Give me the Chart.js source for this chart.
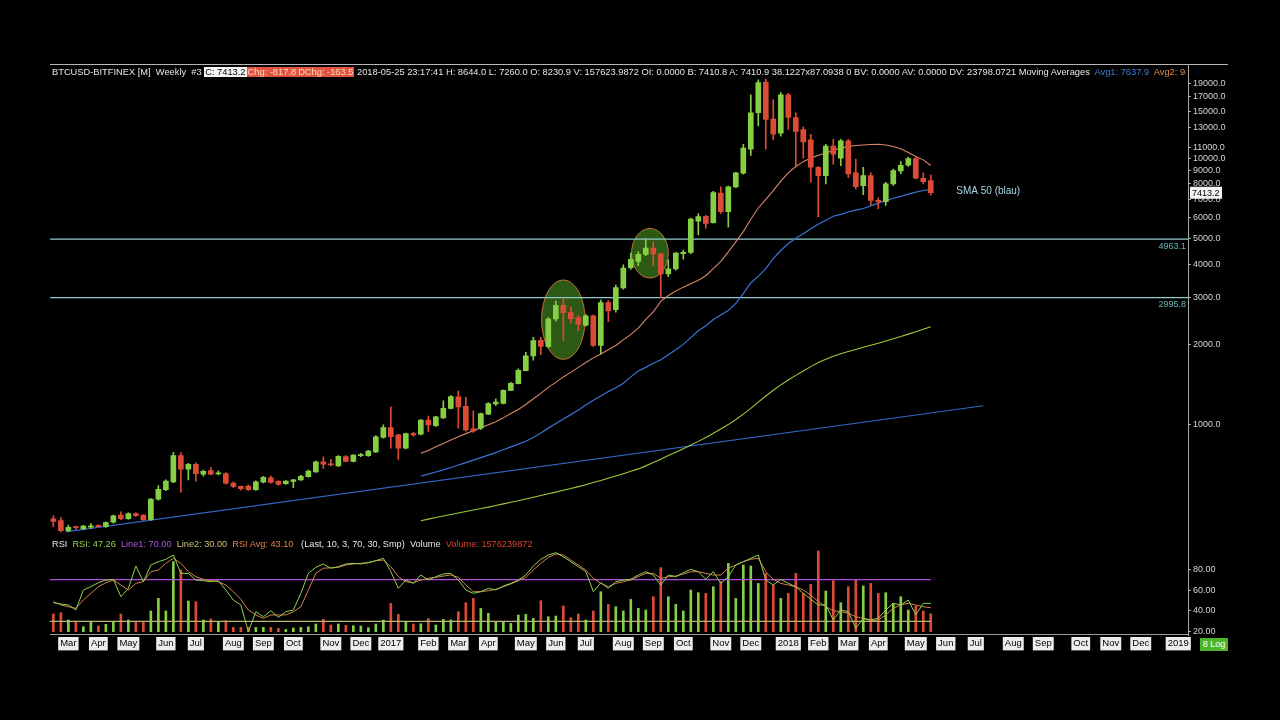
<!DOCTYPE html>
<html>
<head>
<meta charset="utf-8">
<script src="https://cdn.jsdelivr.net/npm/chart.js@4.4.1/dist/chart.umd.min.js"></script>
<style>
  html, body { margin: 0; padding: 0; background: #000; }
  body { width: 1280px; height: 720px; position: relative; overflow: hidden; font-family: "Liberation Sans", Arial, sans-serif; }
  canvas { position: absolute; left: 0; }
  #price { top: 0; }
  #rsi { top: 540px; }
  .hdr { position: absolute; left: 52px; white-space: nowrap; overflow: hidden; line-height: 12px; color: #e6e6e6; }
  .w { background: #f4f4f4; color: #000; padding: 0 1px; }
  .r { background: #e0553d; color: #ffd2c4; padding: 0 1px; }
  .topline { position: absolute; left: 50px; top: 64px; width: 1178px; height: 1px; background: #b8b8b8; }
  .axisline { position: absolute; left: 1188px; top: 64px; width: 1px; height: 572px; background: #a8a8a8; }
  .logbox { position: absolute; left: 1200px; top: 638px; width: 28px; height: 13px; line-height: 13px; background: #4cb52a; color: #fff; font-size: 9px; text-align: center; }
</style>
</head>
<body>
<canvas id="price" width="1280" height="540"></canvas>
<canvas id="rsi" width="1280" height="120"></canvas>
<div class="topline"></div>
<div class="axisline"></div>
<div class="hdr" style="top:66px; width:1134px; font-size:9.3px;">BTCUSD-BITFINEX [M]&nbsp; Weekly&nbsp; #3 <span class="w">C: 7413.2</span><span class="r">Chg: -817.8</span><span class="r">DChg: -163.5</span> 2018-05-25 23:17:41 H: 8644.0 L: 7260.0 O: 8230.9 V: 157623.9872 OI: 0.0000 B: 7410.8 A: 7410.9 38.1227x87.0938 0 BV: 0.0000 AV: 0.0000 DV: 23798.0721 Moving Averages&nbsp; <span style="color:#3f7fe0">Avg1: 7637.9</span>&nbsp; <span style="color:#e08a45">Avg2: 9380.4</span></div>
<div class="hdr" style="top:538px; font-size:9.2px;">RSI&nbsp; <span style="color:#8fd14f">RSI: 47.26</span>&nbsp; <span style="color:#b455dc">Line1: 70.00</span>&nbsp; <span style="color:#c9c070">Line2: 30.00</span>&nbsp; <span style="color:#dc8450">RSI Avg: 43.10</span>&nbsp; &nbsp;(Last, 10, 3, 70, 30, Smp)&nbsp; Volume&nbsp; <span style="color:#d8402c">Volume: 1576239872</span></div>
<div class="logbox">8 Log</div>
<script>
// weekly candles, weeks dated by their Sunday start
const firstWeek = '2016-02-21';
const weekCount = 152;   // axis runs on into Jan 2019

const open = [443,436,400,414,406,412,419,414,430,458, 444,464,458,440,525,570,610,765,680,710,
  652,672,653,655,603,586,588,570,608,632, 612,600,612,620,638,665,725,712,700,758,
  728,765,765,790,895,975,915,815,925,920, 1040,990,1060,1150,1270,1170,965,970,1095,1195,
  1200,1345,1425,1595,1810,2070,1965,2490,2800,2630, 2520,2360,2560,1980,2870,2700,3260,3880,4100,4350,
  4600,4370,3680,3840,4380,4430,5800,6050,5720,7400, 6300,7800,8780,10800,14800,19300,14000,12400,17290,14200,
  12800,11700,9240,8600,11100,10000,11600,8800,7880,8600, 6940,6860,8000,8950,9400,9970,8400,8230.9];
const high = [455,448,420,416,419,425,421,432,458,471, 467,467,460,528,591,620,787,785,715,718,
  675,690,670,660,610,588,593,615,640,641, 616,617,623,645,675,730,757,740,765,765,
  772,780,800,910,997,1166,920,930,935,1045, 1077,1075,1228,1285,1335,1265,1127,1105,1210,1250,
  1350,1440,1620,1868,2125,2125,2520,2905,2990,2760, 2570,2590,2580,2930,2920,3340,3975,4400,4450,4980,
  4850,4400,4150,4420,4520,5960,6190,6100,7500,7800, 7850,8850,11270,17290,19670,19800,16570,17600,17500,14800,
  13100,12280,9300,11270,11770,11770,11770,9915,9240,8800, 7100,8120,9100,9700,10100,10100,8800,8644];
const low = [414,396,396,404,403,408,412,411,427,440, 441,452,437,437,520,565,605,558,620,614,
  640,648,648,598,580,568,566,566,604,603, 592,597,580,617,635,662,685,700,696,725,
  724,758,760,785,890,815,740,810,905,915, 942,985,1055,1145,970,945,935,960,1090,1180,
  1195,1340,1420,1590,1745,1830,1950,2450,2065,2410, 2250,2340,1960,1840,2440,2640,3220,3820,3950,4300,
  3930,2990,3590,3800,4180,4380,5150,5460,5700,6200, 5510,7750,8700,10230,13200,10800,11700,12100,12820,9240,
  10000,8130,6020,8000,9500,9360,8470,7670,7290,6690, 6465,6650,7900,8750,9300,8350,8000,7260];
const close = [433,400,412,410,416,417,414,429,455,444, 464,455,440,525,571,614,765,680,710,655,
  668,652,658,603,586,575,570,610,634,607, 596,614,620,640,669,725,710,706,760,728,
  768,772,795,900,975,900,815,925,915,1040, 998,1070,1150,1275,1166,955,945,1100,1200,1215,
  1345,1430,1600,1810,2065,1965,2490,2800,2630,2500, 2380,2560,1980,2870,2670,3270,3870,4170,4350,4600,
  4370,3680,3840,4400,4430,5900,6040,5690,7420,6300, 7800,8800,10900,14800,19200,13960,12300,17290,14200,12600,
  11500,9240,8600,11100,10350,11600,8720,7820,8600,6940, 6860,8000,8970,9400,9970,8400,8150,7413.2];

// volume, millions
const volume = [1550,1665,1025,876,438,876,500,640,876,1550, 1025,876,876,1813,2917,1813,6132,5405,2689,2628,
  1025,1112,876,964,377,377,377,377,377,377, 289,201,324,377,438,675,1077,587,675,552,
  526,500,350,675,1025,2479,1515,876,675,700, 1139,587,1077,1025,1752,2540,2917,2041,1603,876,
  876,727,1463,1515,1165,2716,1314,1375,2251,1226, 1550,1025,1813,3504,2391,2190,1813,2829,2041,1901,
  3066,5606,3066,2391,1813,3653,3416,3355,3942,4380, 5983,2917,5843,5755,4231,5107,4091,2917,3355,5107,
  3355,4143,7069,3565,4468,2540,3942,4581,4003,4231, 3355,3416,2479,3066,1901,2251,1813,1576];

const rsi = [47.9,46.6,45.7,40.9,60.1,63.3,67.1,69.7,70.4,53.7, 61.7,83.2,68.1,84.1,87.3,89.6,93.7,76.1,76.1,69.7,
  69.0,68.1,69.0,60.1,50.5,45.7,20.0,39.2,34.4,40.2, 33.8,39.2,40.9,56.9,76.1,81.9,85.1,81.0,82.5,85.1,
  85.8,85.1,86.4,88.3,90.6,77.7,61.7,69.7,66.5,74.5, 69.7,72.9,75.5,76.1,69.7,60.1,56.9,58.5,61.7,60.1,
  63.9,66.5,69.7,74.5,83.2,89.6,93.7,96.0,92.1,87.3, 82.5,77.7,58.5,67.1,61.7,68.1,69.7,70.4,74.5,77.7,
  74.5,64.9,74.5,72.9,76.7,80.0,77.7,70.4,77.7,66.5, 72.9,84.1,87.3,90.6,93.7,69.7,64.9,70.4,66.5,63.3,
  56.9,51.2,45.7,45.7,31.3,40.9,39.2,23.3,32.9,31.3, 32.9,40.9,47.3,45.7,50.5,36.1,47.3,47.26];
const rsiAvg = [48.9,45.7,44.0,42.5,50.5,56.9,63.3,67.1,69.7,64.9, 60.1,66.5,68.1,77.7,79.3,85.8,90.6,85.8,77.7,72.9,
  70.4,69.0,68.1,64.9,58.5,51.2,40.9,36.1,32.9,36.1, 36.1,36.1,39.2,44.0,60.1,76.1,81.0,81.5,81.9,84.1,
  85.1,85.8,86.4,88.3,88.9,82.5,72.9,68.1,67.1,69.7, 71.3,72.3,73.5,74.5,72.3,64.9,58.5,58.5,59.4,60.8,
  63.3,65.9,69.0,72.3,79.3,85.8,91.5,94.7,93.7,88.9, 84.1,79.3,71.3,66.5,63.3,66.5,68.1,69.7,72.9,76.1,
  76.1,71.3,72.9,73.5,75.5,77.7,77.7,76.1,74.5,74.5, 81.0,84.1,87.3,89.6,90.6,77.7,70.4,66.5,64.9,63.3,
  60.1,55.3,48.9,44.0,40.2,39.2,37.7,34.4,32.9,30.6, 31.3,36.1,42.5,45.7,47.3,45.7,44.0,43.1];
const rsiLines = [70, 30];

// moving averages start at week 49
const maStart = 49;
const ma20 = [780,800,825,850,875,900,925,948,972,998, 1025,1060,1100,1140,1190,1250,1310,1380,1440,1510,
  1570,1640,1710,1780,1840,1910,1980,2080,2180,2300, 2480,2650,2900,3050,3170,3280,3380,3480,3620,3850,
  4100,4450,4850,5300,5900,6500,7000,7550,8200,8800, 9300,9700,10000,10250,10450,10700,10900,11050,11150,11200,
  11250,11270,11200,11050,10850,10500,10150,9850,9380];
const ma50 = [640,652,664,676,690,705,720,736,752,768, 785,805,825,845,866,895,930,970,1010,1050,
  1090,1135,1185,1235,1280,1330,1375,1430,1510,1590, 1640,1700,1750,1830,1910,2000,2120,2250,2350,2480,
  2580,2680,2850,3100,3400,3600,3850,4200,4500,4780, 5000,5200,5430,5650,5850,6050,6150,6280,6380,6470,
  6620,6780,6930,7070,7180,7330,7450,7560,7640];
const ma100 = [436,442,448,454,460,466,472,478,484,490, 497,504,511,518,526,534,542,550,558,567,
  576,585,595,606,617,629,641,654,668,682, 700,720,742,765,788,812,838,865,895,928,
  963,1000,1045,1095,1150,1215,1280,1345,1410,1470, 1530,1590,1650,1710,1760,1805,1845,1880,1915,1950,
  1985,2020,2060,2100,2140,2185,2230,2280,2330];

const levels = [4963.1, 2995.8];
const trendWeeks = [1.6, 124];
const trendPrices = [396, 1177];
const priceTicks = [1000,2000,3000,4000,5000,6000,7000,8000,9000,10000,11000,13000,15000,17000,19000];
const rsiTicks = [20, 40, 60, 80];

// highlighted zones: week span and price span
const zones = [
  { from: 65.1, to: 70.9, lo: 1757, hi: 3490 },
  { from: 77.1, to: 82.0, lo: 3548, hi: 5444 }
];

const GREEN = '#86cf45', RED = '#dc4b35';
const monthNames = ['Jan','Feb','Mar','Apr','May','Jun','Jul','Aug','Sep','Oct','Nov','Dec'];

const weeks = [];
const [fy, fm, fd] = firstWeek.split('-').map(Number);
for (let i = 0; i < weekCount; i++) weeks.push(new Date(Date.UTC(fy, fm - 1, fd + 7 * i)));
const monthTicks = [];
weeks.forEach((d, i) => {
  if (i > 0 && d.getUTCMonth() !== weeks[i - 1].getUTCMonth()) {
    const m = d.getUTCMonth();
    monthTicks.push({ i, label: m === 0 ? String(d.getUTCFullYear()) : monthNames[m] });
  }
});

const xMin = -0.45, xMax = 151.3;
const upColor = close.map((c, i) => c >= open[i] ? GREEN : RED);
const pts = arr => arr.map((v, i) => ({ x: i, y: v }));
const maPts = arr => arr.map((v, k) => ({ x: maStart + k, y: v }));
const hline = v => [{ x: xMin, y: v }, { x: xMax, y: v }];

Chart.defaults.font.family = '"Liberation Sans", Arial, sans-serif';
Chart.defaults.font.size = 9;
Chart.defaults.color = '#d4d4d4';
Chart.defaults.animation = false;

const priceDecor = {
  id: 'priceDecor',
  beforeDatasetsDraw(chart) {
    const { ctx, scales: { x, y } } = chart;
    zones.forEach(z => {
      const x0 = x.getPixelForValue(z.from), x1 = x.getPixelForValue(z.to);
      const y0 = y.getPixelForValue(z.hi), y1 = y.getPixelForValue(z.lo);
      ctx.save();
      ctx.beginPath();
      ctx.ellipse((x0 + x1) / 2, (y0 + y1) / 2, (x1 - x0) / 2, (y1 - y0) / 2, 0, 0, Math.PI * 2);
      ctx.fillStyle = '#2c5a14';
      ctx.fill();
      ctx.strokeStyle = '#c2703c';
      ctx.lineWidth = 1;
      ctx.stroke();
      ctx.restore();
    });
  },
  afterDatasetsDraw(chart) {
    const { ctx, chartArea, scales: { x, y } } = chart;
    ctx.save();
    ctx.font = '9px "Liberation Sans", Arial, sans-serif';
    ctx.textBaseline = 'middle';
    // level values under the lines
    ctx.fillStyle = '#62b8b2';
    ctx.textAlign = 'right';
    levels.forEach(v => ctx.fillText(v.toFixed(1), chartArea.right - 2, y.getPixelForValue(v) + 7));
    // label for the blue average
    ctx.textAlign = 'left';
    ctx.fillStyle = '#a6d8e4';
    ctx.font = '10px "Liberation Sans", Arial, sans-serif';
    ctx.fillText('SMA 50 (blau)', x.getPixelForValue(120.4), y.getPixelForValue(7520));
    // last price tag on the axis
    const last = close[close.length - 1];
    const py = y.getPixelForValue(last);
    ctx.font = '9px "Liberation Sans", Arial, sans-serif';
    ctx.fillStyle = '#f4f4f4';
    ctx.fillRect(chartArea.right + 2, py - 6, 32, 12);
    ctx.fillStyle = '#000';
    ctx.fillText(last.toFixed(1), chartArea.right + 4, py + 0.5);
    ctx.restore();
  }
};

new Chart(document.getElementById('price'), {
  type: 'bar',
  data: {
    datasets: [
      { type: 'bar', data: open.map((o, i) => ({ x: i, y: [o, close[i]] })), backgroundColor: upColor,
        barThickness: 5, minBarLength: 1, grouped: false, order: 0 },
      { type: 'bar', data: low.map((l, i) => ({ x: i, y: [l, high[i]] })), backgroundColor: upColor,
        barThickness: 1, grouped: false, order: 1 },
      { type: 'line', data: maPts(ma20), borderColor: '#d8876a', borderWidth: 1.1, pointRadius: 0, order: 2 },
      { type: 'line', data: maPts(ma50), borderColor: '#3a74d4', borderWidth: 1.2, pointRadius: 0, order: 2 },
      { type: 'line', data: maPts(ma100), borderColor: '#9ccb38', borderWidth: 1.1, pointRadius: 0, order: 2 },
      { type: 'line', data: trendWeeks.map((w, k) => ({ x: w, y: trendPrices[k] })), borderColor: '#3564c4',
        borderWidth: 1.2, pointRadius: 0, order: 3 },
      ...levels.map(v => ({ type: 'line', data: hline(v), borderColor: '#8ccccc', borderWidth: 1.2, pointRadius: 0, order: 4 }))
    ]
  },
  options: {
    responsive: false,
    layout: { padding: { left: 50, right: 47, top: 66, bottom: 3 } },
    plugins: { legend: { display: false }, tooltip: { enabled: false } },
    scales: {
      x: { type: 'linear', min: xMin, max: xMax, offset: false, bounds: 'data', display: false },
      y: {
        type: 'logarithmic', position: 'right', min: 393.3, max: 22165, bounds: 'data',
        afterBuildTicks: s => { s.ticks = priceTicks.map(v => ({ value: v })); },
        afterFit: s => { s.width = 45; },
        ticks: { autoSkip: false, padding: 2, color: '#d4d4d4', callback: v => Number(v).toFixed(1) },
        grid: { drawOnChartArea: false, drawTicks: true, tickLength: 3, color: '#a8a8a8' },
        border: { display: true, color: '#a8a8a8' }
      }
    }
  },
  plugins: [priceDecor]
});

new Chart(document.getElementById('rsi'), {
  type: 'bar',
  data: {
    datasets: [
      { type: 'line', data: pts(rsi), borderColor: '#8fd14f', borderWidth: 1, pointRadius: 0, yAxisID: 'y', order: 0 },
      { type: 'line', data: pts(rsiAvg), borderColor: '#d4824e', borderWidth: 1, pointRadius: 0, yAxisID: 'y', order: 1 },
      { type: 'line', data: [{ x: xMin, y: rsiLines[0] }, { x: close.length - 1, y: rsiLines[0] }], borderColor: '#b24fd6',
        borderWidth: 1.3, pointRadius: 0, yAxisID: 'y', order: 2 },
      { type: 'line', data: [{ x: xMin, y: rsiLines[1] }, { x: close.length - 1, y: rsiLines[1] }], borderColor: '#bdb777',
        borderWidth: 1.3, pointRadius: 0, yAxisID: 'y', order: 2 },
      { type: 'bar', data: pts(volume), backgroundColor: upColor, barThickness: 2, grouped: false, yAxisID: 'yVol', order: 3 }
    ]
  },
  options: {
    responsive: false,
    layout: { padding: { left: 50, right: 47, top: 8, bottom: 4 } },
    plugins: { legend: { display: false }, tooltip: { enabled: false } },
    scales: {
      x: {
        type: 'linear', min: xMin, max: xMax, offset: false, bounds: 'data',
        afterBuildTicks: s => { s.ticks = monthTicks.map(t => ({ value: t.i })); },
        afterFit: s => { s.height = 22; },
        ticks: {
          autoSkip: false, maxRotation: 0, padding: 4, color: '#000', font: { size: 9.5 },
          showLabelBackdrop: true, backdropColor: '#ececec', backdropPadding: { x: 2, y: 1 },
          callback: (v, idx) => monthTicks[idx] ? monthTicks[idx].label : ''
        },
        grid: { display: false, drawTicks: false },
        border: { display: true, color: '#9a9a9a' }
      },
      y: {
        type: 'linear', position: 'right', min: 17.79, max: 100.48, bounds: 'data',
        afterBuildTicks: s => { s.ticks = rsiTicks.map(v => ({ value: v })); },
        afterFit: s => { s.width = 45; },
        ticks: { autoSkip: false, padding: 2, color: '#d4d4d4', callback: v => Number(v).toFixed(2) },
        grid: { drawOnChartArea: false, drawTicks: true, tickLength: 3, color: '#a8a8a8' },
        border: { display: true, color: '#a8a8a8' }
      },
      yVol: { type: 'linear', axis: 'y', display: false, min: -201, max: 7332 }
    }
  }
});
</script>
</body>
</html>
